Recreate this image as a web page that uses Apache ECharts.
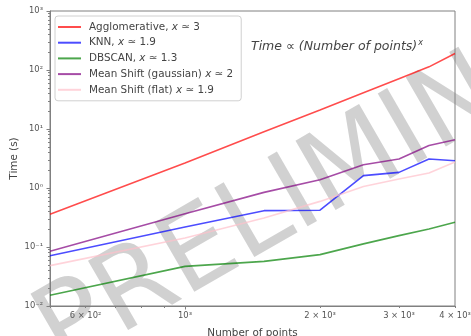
<!DOCTYPE html>
<html>
<head>
<meta charset="utf-8">
<script src="https://cdn.jsdelivr.net/npm/echarts@6/dist/echarts.min.js"></script>
<style>
  html, body { margin: 0; padding: 0; background: #fff; }
  #chart { width: 471px; height: 336px; }
</style>
</head>
<body>
<div id="chart"></div>
<script>
// Problem sizes (number of points) and measured run times in seconds
const sizes = [500, 1000, 1500, 2000, 2500, 3000, 3500, 4000];
const agglomerative = [0.36, 2.65, 9.0, 21, 41, 71, 113, 190];
const knn = [0.071, 0.219, 0.413, 0.42, 1.62, 1.84, 3.1, 2.9];
const dbscan = [0.0152, 0.047, 0.057, 0.0743, 0.113, 0.156, 0.202, 0.262];
const meanShiftGaussian = [0.0845, 0.367, 0.843, 1.38, 2.48, 3.1, 5.26, 6.57];
const meanShiftFlat = [0.0484, 0.142, 0.31, 0.593, 1.06, 1.42, 1.79, 2.75];

const seriesNames = [
  'Agglomerative, x ≃ 3',
  'KNN, x ≃ 1.9',
  'DBSCAN, x ≃ 1.3',
  'Mean Shift (gaussian) x ≃ 2',
  'Mean Shift (flat) x ≃ 1.9'
];
const seriesColors = ['#ff0000', '#0000ff', '#008000', '#800080', '#ffc0cb'];

// Axis ticks
const xMajorTicks = [1000];
const xMinorTicks = [500, 600, 700, 800, 900, 2000, 3000, 4000];
const xTickLabels = [600, 1000, 2000, 3000, 4000];
const yMajorTicks = [0.01, 0.1, 1, 10, 100, 1000];
const yMinorTicks = [];
for (let e = -2; e < 3; e++) {
  for (let m = 2; m <= 9; m++) yMinorTicks.push(+(m * Math.pow(10, e)).toPrecision(3));
}

const FONT = 'DejaVu Sans';
const SUP = { '-': '⁻', '0': '⁰', '1': '¹', '2': '²', '3': '³', '4': '⁴', '5': '⁵', '6': '⁶', '7': '⁷', '8': '⁸', '9': '⁹' };
function sup(n) { return String(n).split('').map(c => SUP[c]).join(''); }
function sciLabel(v) {
  const e = Math.floor(Math.log10(v) + 1e-9);
  const m = Math.round(v / Math.pow(10, e));
  return (m === 1 ? '' : m + ' × ') + '10' + sup(e);
}

const axisGray = '#808080';
const labelGray = '#555555';

const chart = echarts.init(document.getElementById('chart'), null, { renderer: 'canvas' });

const grid = {
  left: 50, right: 16, top: 11, bottom: 30,
  outerBoundsMode: 'none', containLabel: false,
  show: true, borderColor: axisGray, borderWidth: 1, backgroundColor: 'transparent'
};

const series = [agglomerative, knn, dbscan, meanShiftGaussian, meanShiftFlat].map((vals, i) => ({
  name: seriesNames[i],
  type: 'line',
  xAxisIndex: 0,
  yAxisIndex: 0,
  symbol: 'none',
  z: 5,
  lineStyle: { color: seriesColors[i], width: 1.6, opacity: 0.7 },
  itemStyle: { color: seriesColors[i], opacity: 0.7 },
  data: sizes.map((x, j) => [x, vals[j]])
}));

const option = {
  animation: false,
  backgroundColor: '#fff',
  textStyle: { fontFamily: FONT },
  grid: grid,
  xAxis: [
    {
      type: 'log', logBase: 10, min: 500, max: 4000,
      name: 'Number of points', nameLocation: 'middle', nameGap: 22, nameMoveOverlap: false,
      nameTextStyle: { fontFamily: FONT, fontSize: 10.4, color: '#444' },
      axisLine: { show: true, lineStyle: { color: axisGray, width: 1 } },
      axisTick: { show: true, length: 3.5, customValues: xMajorTicks, lineStyle: { color: axisGray } },
      axisLabel: { customValues: xTickLabels, fontFamily: FONT, fontSize: 8.4, color: labelGray, margin: 6,
        formatter: v => sciLabel(v) },
      splitLine: { show: false }
    },
    {
      type: 'log', logBase: 10, min: 500, max: 4000, position: 'bottom',
      axisLine: { show: false },
      axisTick: { show: true, length: 2, customValues: xMinorTicks, lineStyle: { color: axisGray } },
      axisLabel: { show: false },
      splitLine: { show: false }
    }
  ],
  yAxis: [
    {
      type: 'log', logBase: 10, min: 0.01, max: 1000,
      name: 'Time (s)', nameLocation: 'middle', nameGap: 31, nameMoveOverlap: false,
      nameTextStyle: { fontFamily: FONT, fontSize: 10.4, color: '#444' },
      axisLine: { show: true, lineStyle: { color: axisGray, width: 1 } },
      axisTick: { show: true, length: 3.5, customValues: yMajorTicks, lineStyle: { color: axisGray } },
      axisLabel: { customValues: yMajorTicks, fontFamily: FONT, fontSize: 8.4, color: labelGray, margin: 7,
        formatter: v => sciLabel(v) },
      splitLine: { show: false }
    },
    {
      type: 'log', logBase: 10, min: 0.01, max: 1000, position: 'left',
      axisLine: { show: false },
      axisTick: { show: true, length: 2, customValues: yMinorTicks, lineStyle: { color: axisGray } },
      axisLabel: { show: false },
      splitLine: { show: false }
    }
  ],
  legend: {
    orient: 'vertical', left: 55, top: 16,
    padding: [6, 8, 6, 3],
    itemGap: 5.7, itemWidth: 23, itemHeight: 2,
    icon: 'rect',
    backgroundColor: 'rgba(255,255,255,0.85)',
    borderColor: '#d0d0d0', borderWidth: 1, borderRadius: 3,
    z: 6,
    formatter: name => name.replace(' x ', ' {i|x} '),
    textStyle: {
      fontFamily: FONT, fontSize: 10.4, color: '#444', padding: [0, 0, 0, 3],
      rich: { i: { fontFamily: FONT, fontSize: 10.4, color: '#444', fontStyle: 'italic' } }
    }
  },
  graphic: [
    {
      type: 'text', z: 0, silent: true,
      x: 362, y: 162, rotation: Math.PI / 6,
      style: {
        text: 'PRELIMINARY', fontFamily: FONT, fontSize: 110,
        fill: 'rgba(128,128,128,0.36)', align: 'center', verticalAlign: 'middle'
      }
    },
    {
      type: 'text', z: 7, silent: true,
      x: 251, y: 47,
      style: {
        text: '{t|Time ∝ (Number of points)}{s|x}',
        verticalAlign: 'middle',
        rich: {
          t: { fontFamily: FONT, fontSize: 12.5, fontStyle: 'italic', fill: '#444', lineHeight: 16 },
          s: { fontFamily: FONT, fontSize: 8, fontStyle: 'italic', fill: '#444', lineHeight: 16, padding: [0, 0, 9, 1] }
        }
      }
    }
  ],
  series: series
};

chart.setOption(option);
</script>
</body>
</html>
